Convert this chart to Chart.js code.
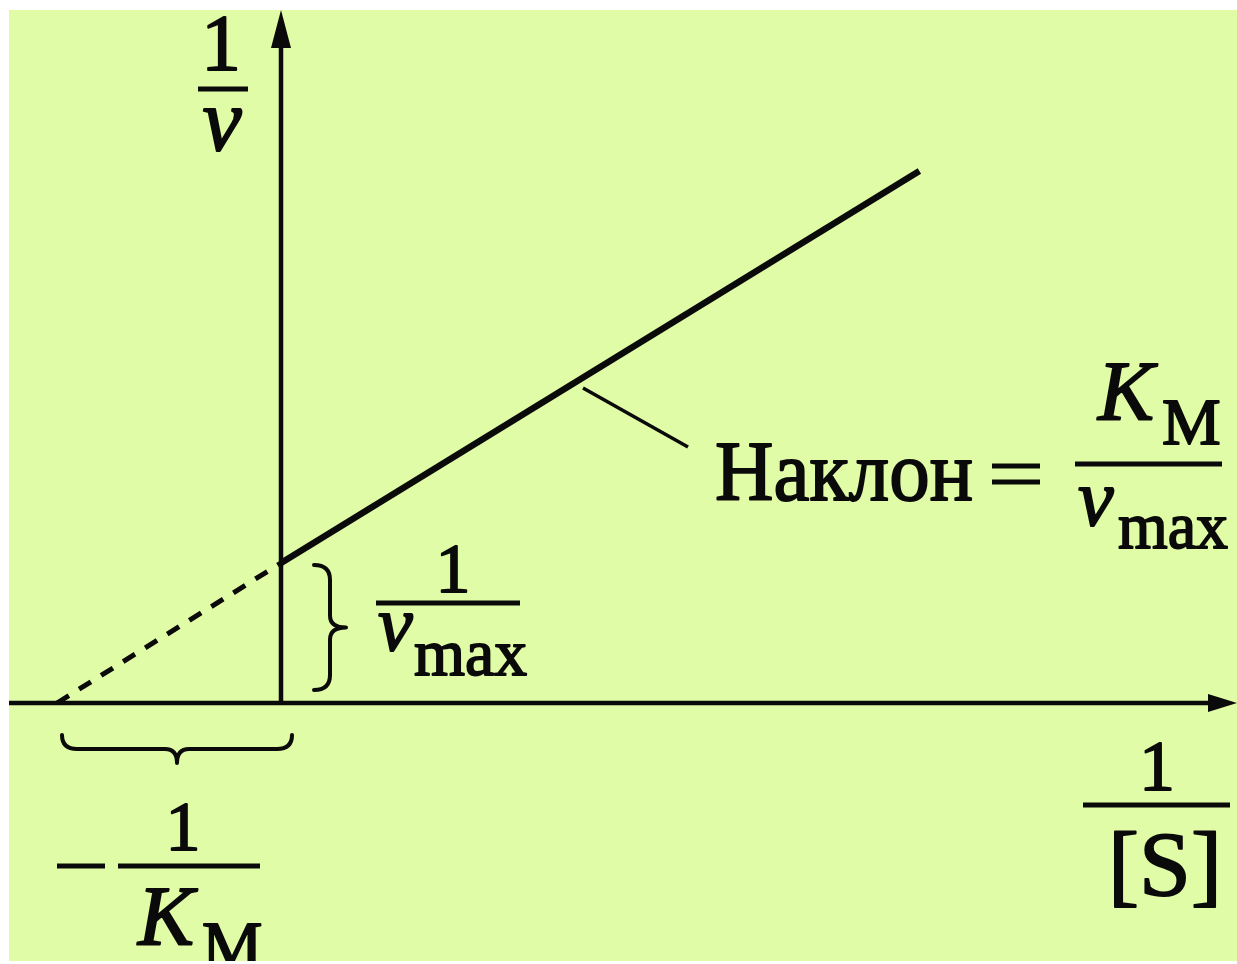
<!DOCTYPE html>
<html>
<head>
<meta charset="utf-8">
<script src="https://cdn.jsdelivr.net/npm/chart.js@4"></script>
<style>
  html, body { margin: 0; padding: 0; background: #fff; }
  canvas { display: block; }
</style>
</head>
<body>
<canvas id="lb-chart" width="1237" height="964"></canvas>
<script>
// Lineweaver-Burk plot: 1/v against 1/[S], units with Km = 1 and 1/vmax = 1
const solidX = [0, 2.85]
const solidY = [1, 3.8]
const dashX = [-1, 0]
const dashY = [0, 1]

const xLabel = ['1', '[S]']
const yLabel = ['1', 'v']
const slopeWord = 'Наклон'

const bg = '#e0fca6'
const ink = '#0a0a0a'
const serif = '"Liberation Serif", "DejaVu Serif", serif'

const toPoints = (xs, ys) => xs.map((x, i) => ({ x: x, y: ys[i] }))

// serif text, stroked a little so it reads as heavy as the scanned original
function text(ctx, s, x, y, size, opts) {
  opts = opts || {}
  ctx.font = (opts.italic ? 'italic ' : '') + size + 'px ' + serif
  ctx.textAlign = opts.align || 'left'
  ctx.textBaseline = 'alphabetic'
  ctx.fillStyle = ink
  ctx.strokeStyle = ink
  ctx.lineWidth = 1.8
  ctx.lineJoin = 'round'
  ctx.save()
  ctx.translate(x, y)
  if (opts.width) {
    ctx.scale(opts.width / ctx.measureText(s).width, 1)
    ctx.textAlign = 'left'
  }
  ctx.fillText(s, 0, 0)
  ctx.strokeText(s, 0, 0)
  ctx.restore()
}

function bar(ctx, x1, x2, y, h) {
  ctx.fillStyle = ink
  ctx.fillRect(x1, y - (h || 4) / 2, x2 - x1, h || 4)
}

// curly brace "}" running from (x, y1) to (x, y2), tip pointing right
function braceV(ctx, x, y1, y2, depth) {
  const m = (y1 + y2) / 2
  ctx.beginPath()
  ctx.moveTo(x, y1)
  ctx.quadraticCurveTo(x + depth * 0.5, y1, x + depth * 0.5, y1 + 15)
  ctx.lineTo(x + depth * 0.5, m - 12)
  ctx.quadraticCurveTo(x + depth * 0.5, m, x + depth, m)
  ctx.quadraticCurveTo(x + depth * 0.5, m, x + depth * 0.5, m + 12)
  ctx.lineTo(x + depth * 0.5, y2 - 15)
  ctx.quadraticCurveTo(x + depth * 0.5, y2, x, y2)
  ctx.stroke()
}

// curly brace under the axis, tip pointing down
function braceH(ctx, x1, x2, y, depth) {
  const m = (x1 + x2) / 2
  ctx.beginPath()
  ctx.moveTo(x1, y)
  ctx.quadraticCurveTo(x1, y + depth * 0.5, x1 + 15, y + depth * 0.5)
  ctx.lineTo(m - 12, y + depth * 0.5)
  ctx.quadraticCurveTo(m, y + depth * 0.5, m, y + depth)
  ctx.quadraticCurveTo(m, y + depth * 0.5, m + 12, y + depth * 0.5)
  ctx.lineTo(x2 - 15, y + depth * 0.5)
  ctx.quadraticCurveTo(x2, y + depth * 0.5, x2, y)
  ctx.stroke()
}

const diagram = {
  id: 'diagram',
  beforeDraw(chart) {
    const ctx = chart.ctx
    ctx.save()
    ctx.fillStyle = '#fff'
    ctx.fillRect(0, 0, chart.width, chart.height)
    ctx.fillStyle = bg
    ctx.fillRect(9, 10, 1228, 951)
    ctx.restore()
  },
  beforeDatasetsDraw(chart) {
    const ctx = chart.ctx
    const x0 = chart.scales.x.getPixelForValue(0)
    const y0 = chart.scales.y.getPixelForValue(0)
    ctx.save()
    ctx.strokeStyle = ink
    ctx.fillStyle = ink
    ctx.lineWidth = 4.5
    // y axis with arrow
    ctx.beginPath()
    ctx.moveTo(x0, y0)
    ctx.lineTo(x0, 40)
    ctx.stroke()
    ctx.beginPath()
    ctx.moveTo(x0, 10)
    ctx.lineTo(x0 - 10, 48)
    ctx.lineTo(x0 + 10, 48)
    ctx.closePath()
    ctx.fill()
    // x axis with arrow
    ctx.beginPath()
    ctx.moveTo(9, y0)
    ctx.lineTo(1215, y0)
    ctx.stroke()
    ctx.beginPath()
    ctx.moveTo(1237, y0)
    ctx.lineTo(1208, y0 - 9)
    ctx.lineTo(1208, y0 + 9)
    ctx.closePath()
    ctx.fill()
    ctx.restore()
  },
  afterDatasetsDraw(chart) {
    const ctx = chart.ctx
    ctx.save()
    ctx.beginPath()
    ctx.rect(9, 10, 1228, 951)
    ctx.clip()

    // 1/v
    text(ctx, yLabel[0], 221, 70, 80, { align: 'center' })
    bar(ctx, 198, 248, 89, 5)
    text(ctx, yLabel[1], 222, 150, 88, { italic: true, align: 'center' })

    // 1/vmax with brace
    ctx.strokeStyle = ink
    ctx.lineCap = 'round'
    ctx.lineWidth = 4
    braceV(ctx, 314, 565, 690, 32)
    text(ctx, '1', 453, 592, 70, { align: 'center' })
    bar(ctx, 376, 520, 603, 5)
    text(ctx, 'v', 378, 650, 78, { italic: true })
    text(ctx, 'max', 414, 675, 66, { width: 113 })

    // -1/Km with brace
    ctx.strokeStyle = ink
    ctx.lineWidth = 4
    braceH(ctx, 62, 292, 735, 28)
    bar(ctx, 57, 105, 866, 5)
    text(ctx, '1', 183, 850, 70, { align: 'center' })
    bar(ctx, 118, 260, 866, 5)
    text(ctx, 'K', 138, 945, 84, { italic: true })
    text(ctx, 'M', 202, 968, 68)

    // 1/[S]
    text(ctx, xLabel[0], 1157, 790, 72, { align: 'center' })
    bar(ctx, 1083, 1230, 805, 5)
    text(ctx, xLabel[1], 1108, 895, 92, { width: 114 })

    // slope annotation
    ctx.strokeStyle = ink
    ctx.lineCap = 'butt'
    ctx.lineWidth = 3.5
    ctx.beginPath()
    ctx.moveTo(583, 388)
    ctx.lineTo(688, 447)
    ctx.stroke()
    text(ctx, slopeWord, 715, 500, 84, { width: 258 })
    bar(ctx, 992, 1040, 466, 5)
    bar(ctx, 992, 1040, 482, 5)
    text(ctx, 'K', 1098, 420, 84, { italic: true })
    text(ctx, 'M', 1162, 444, 66)
    bar(ctx, 1075, 1222, 464, 5)
    text(ctx, 'v', 1078, 525, 80, { italic: true })
    text(ctx, 'max', 1118, 548, 66, { width: 110 })
    ctx.restore()
  }
}

new Chart(document.querySelector('#lb-chart'), {
  type: 'line',
  data: {
    datasets: [{
      data: toPoints(solidX, solidY),
      borderColor: ink,
      borderWidth: 6.5,
      pointRadius: 0
    }, {
      data: toPoints(dashX, dashY),
      borderColor: ink,
      borderWidth: 5,
      borderDash: [14, 12],
      pointRadius: 0
    }]
  },
  options: {
    responsive: false,
    animation: false,
    layout: { padding: 0 },
    scales: {
      x: { type: 'linear', min: -281 / 224, max: (1237 - 281) / 224, display: false },
      y: { type: 'linear', min: -(964 - 703) / 140, max: 703 / 140, display: false }
    },
    plugins: {
      legend: { display: false },
      tooltip: { enabled: false }
    }
  },
  plugins: [diagram]
})
</script>
</body>
</html>
